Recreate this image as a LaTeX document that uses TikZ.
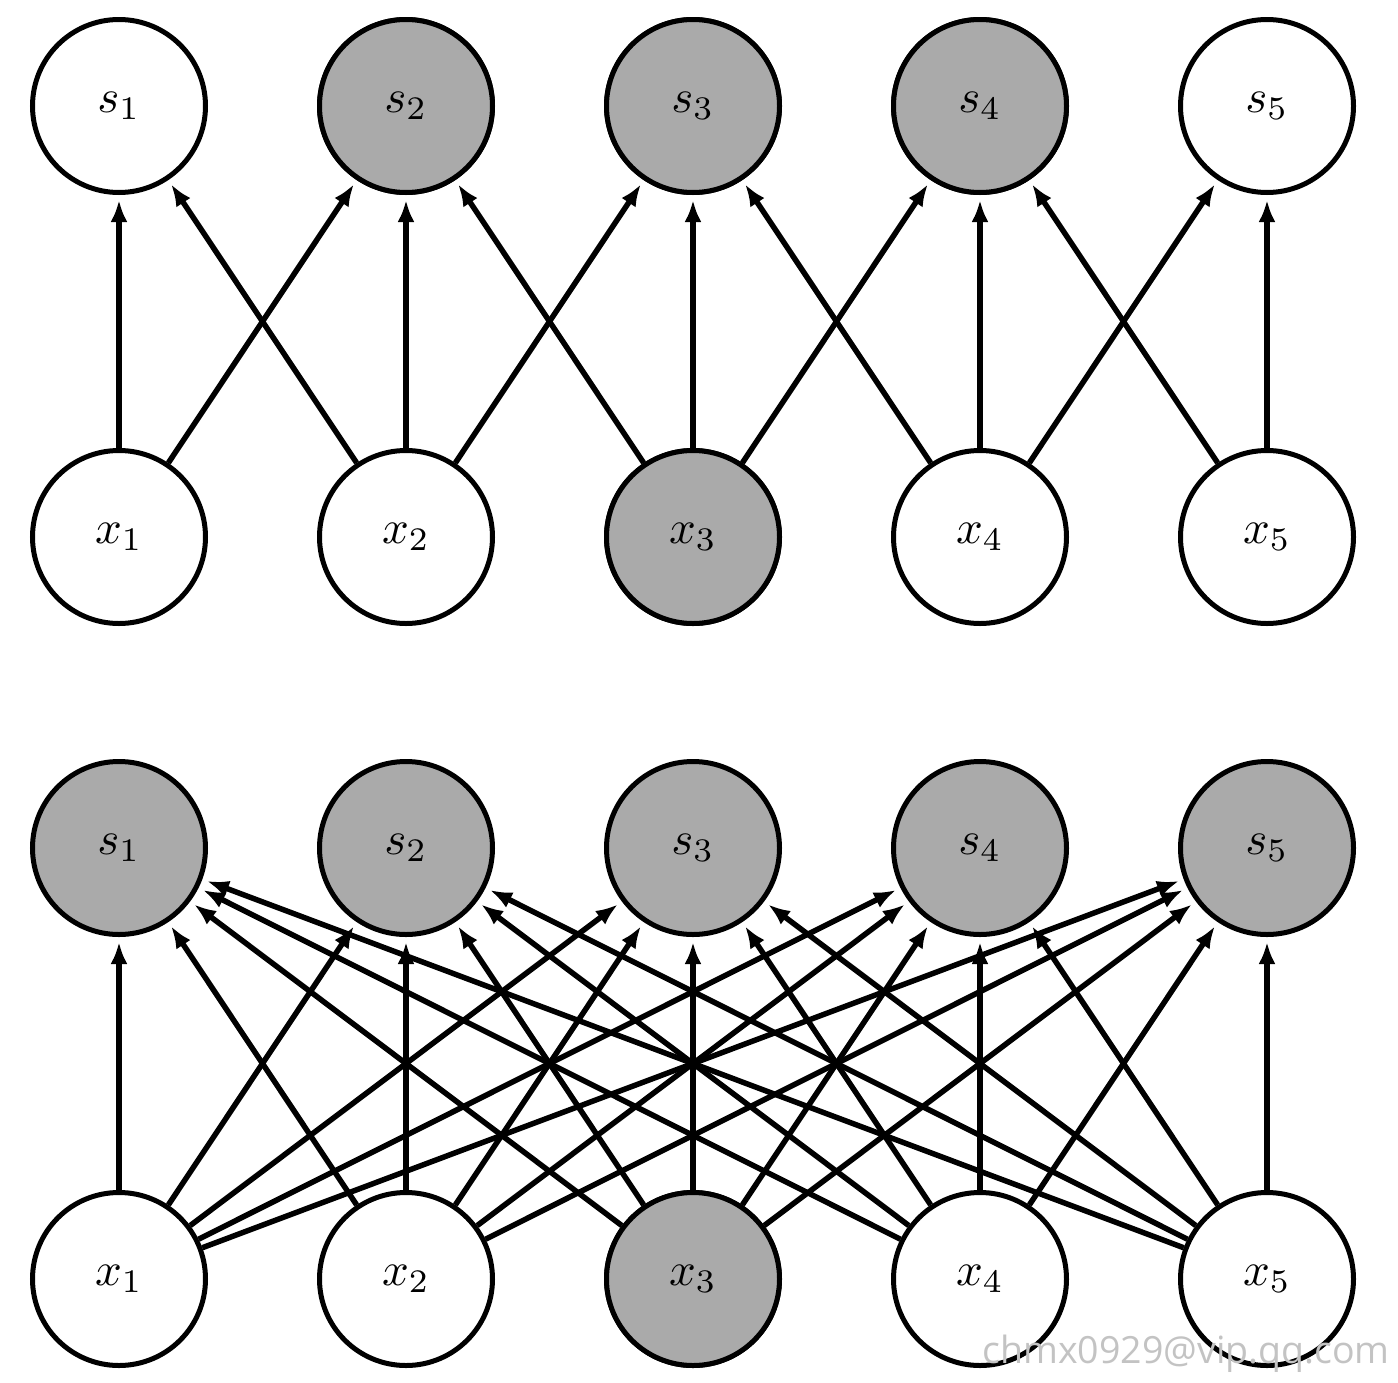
\documentclass[tikz,border=0pt]{standalone}
\usepackage{graphicx}
\usepackage{fontspec}
\newfontfamily\wmfont{Open Sans}
\usetikzlibrary{arrows.meta}
\definecolor{shade}{RGB}{170,170,170}
\definecolor{wm}{RGB}{195,195,195}
\newcommand{\nodemath}[1]{\scalebox{4.7}{$#1$}}
\begin{document}
\begin{tikzpicture}[x=1pt,y=-1pt,
  unit/.style={circle,draw=black,line width=5pt,minimum size=173pt,inner sep=0pt,fill=white},
  on/.style={fill=shade},
  link/.style={line width=5.5pt,-{Latex[length=22pt,width=17pt]},shorten >=5pt}]
\useasboundingbox (0,0) rectangle (1398,1382);
\foreach \i/\x in {1/119,2/406,3/693,4/980,5/1267}{
  \node[unit] (ts\i) at (\x,106) {\nodemath{s_{\i}}};
  \node[unit] (tx\i) at (\x,537) {\nodemath{x_{\i}}};
  \node[unit,on] (bs\i) at (\x,848) {\nodemath{s_{\i}}};
  \node[unit] (bx\i) at (\x,1279) {\nodemath{x_{\i}}};
}
\node[unit,on] at (ts2) {\nodemath{s_{2}}};
\node[unit,on] at (ts3) {\nodemath{s_{3}}};
\node[unit,on] at (ts4) {\nodemath{s_{4}}};
\node[unit,on] at (tx3) {\nodemath{x_{3}}};
\node[unit,on] at (bx3) {\nodemath{x_{3}}};
\foreach \i in {1,...,5}{
  \foreach \j in {1,...,5}{
    \pgfmathtruncatemacro{\d}{abs(\i-\j)}
    \ifnum\d<2 \draw[link] (tx\i) -- (ts\j);\fi
    \draw[link] (bx\i) -- (bs\j);
  }
}
\node[anchor=base east,text=wm,font=\wmfont\fontsize{37.5}{45}\selectfont,inner sep=0pt] (wmark) at (1390,1363) {chmx0929@vip.qq.com};
\end{tikzpicture}
\end{document}
